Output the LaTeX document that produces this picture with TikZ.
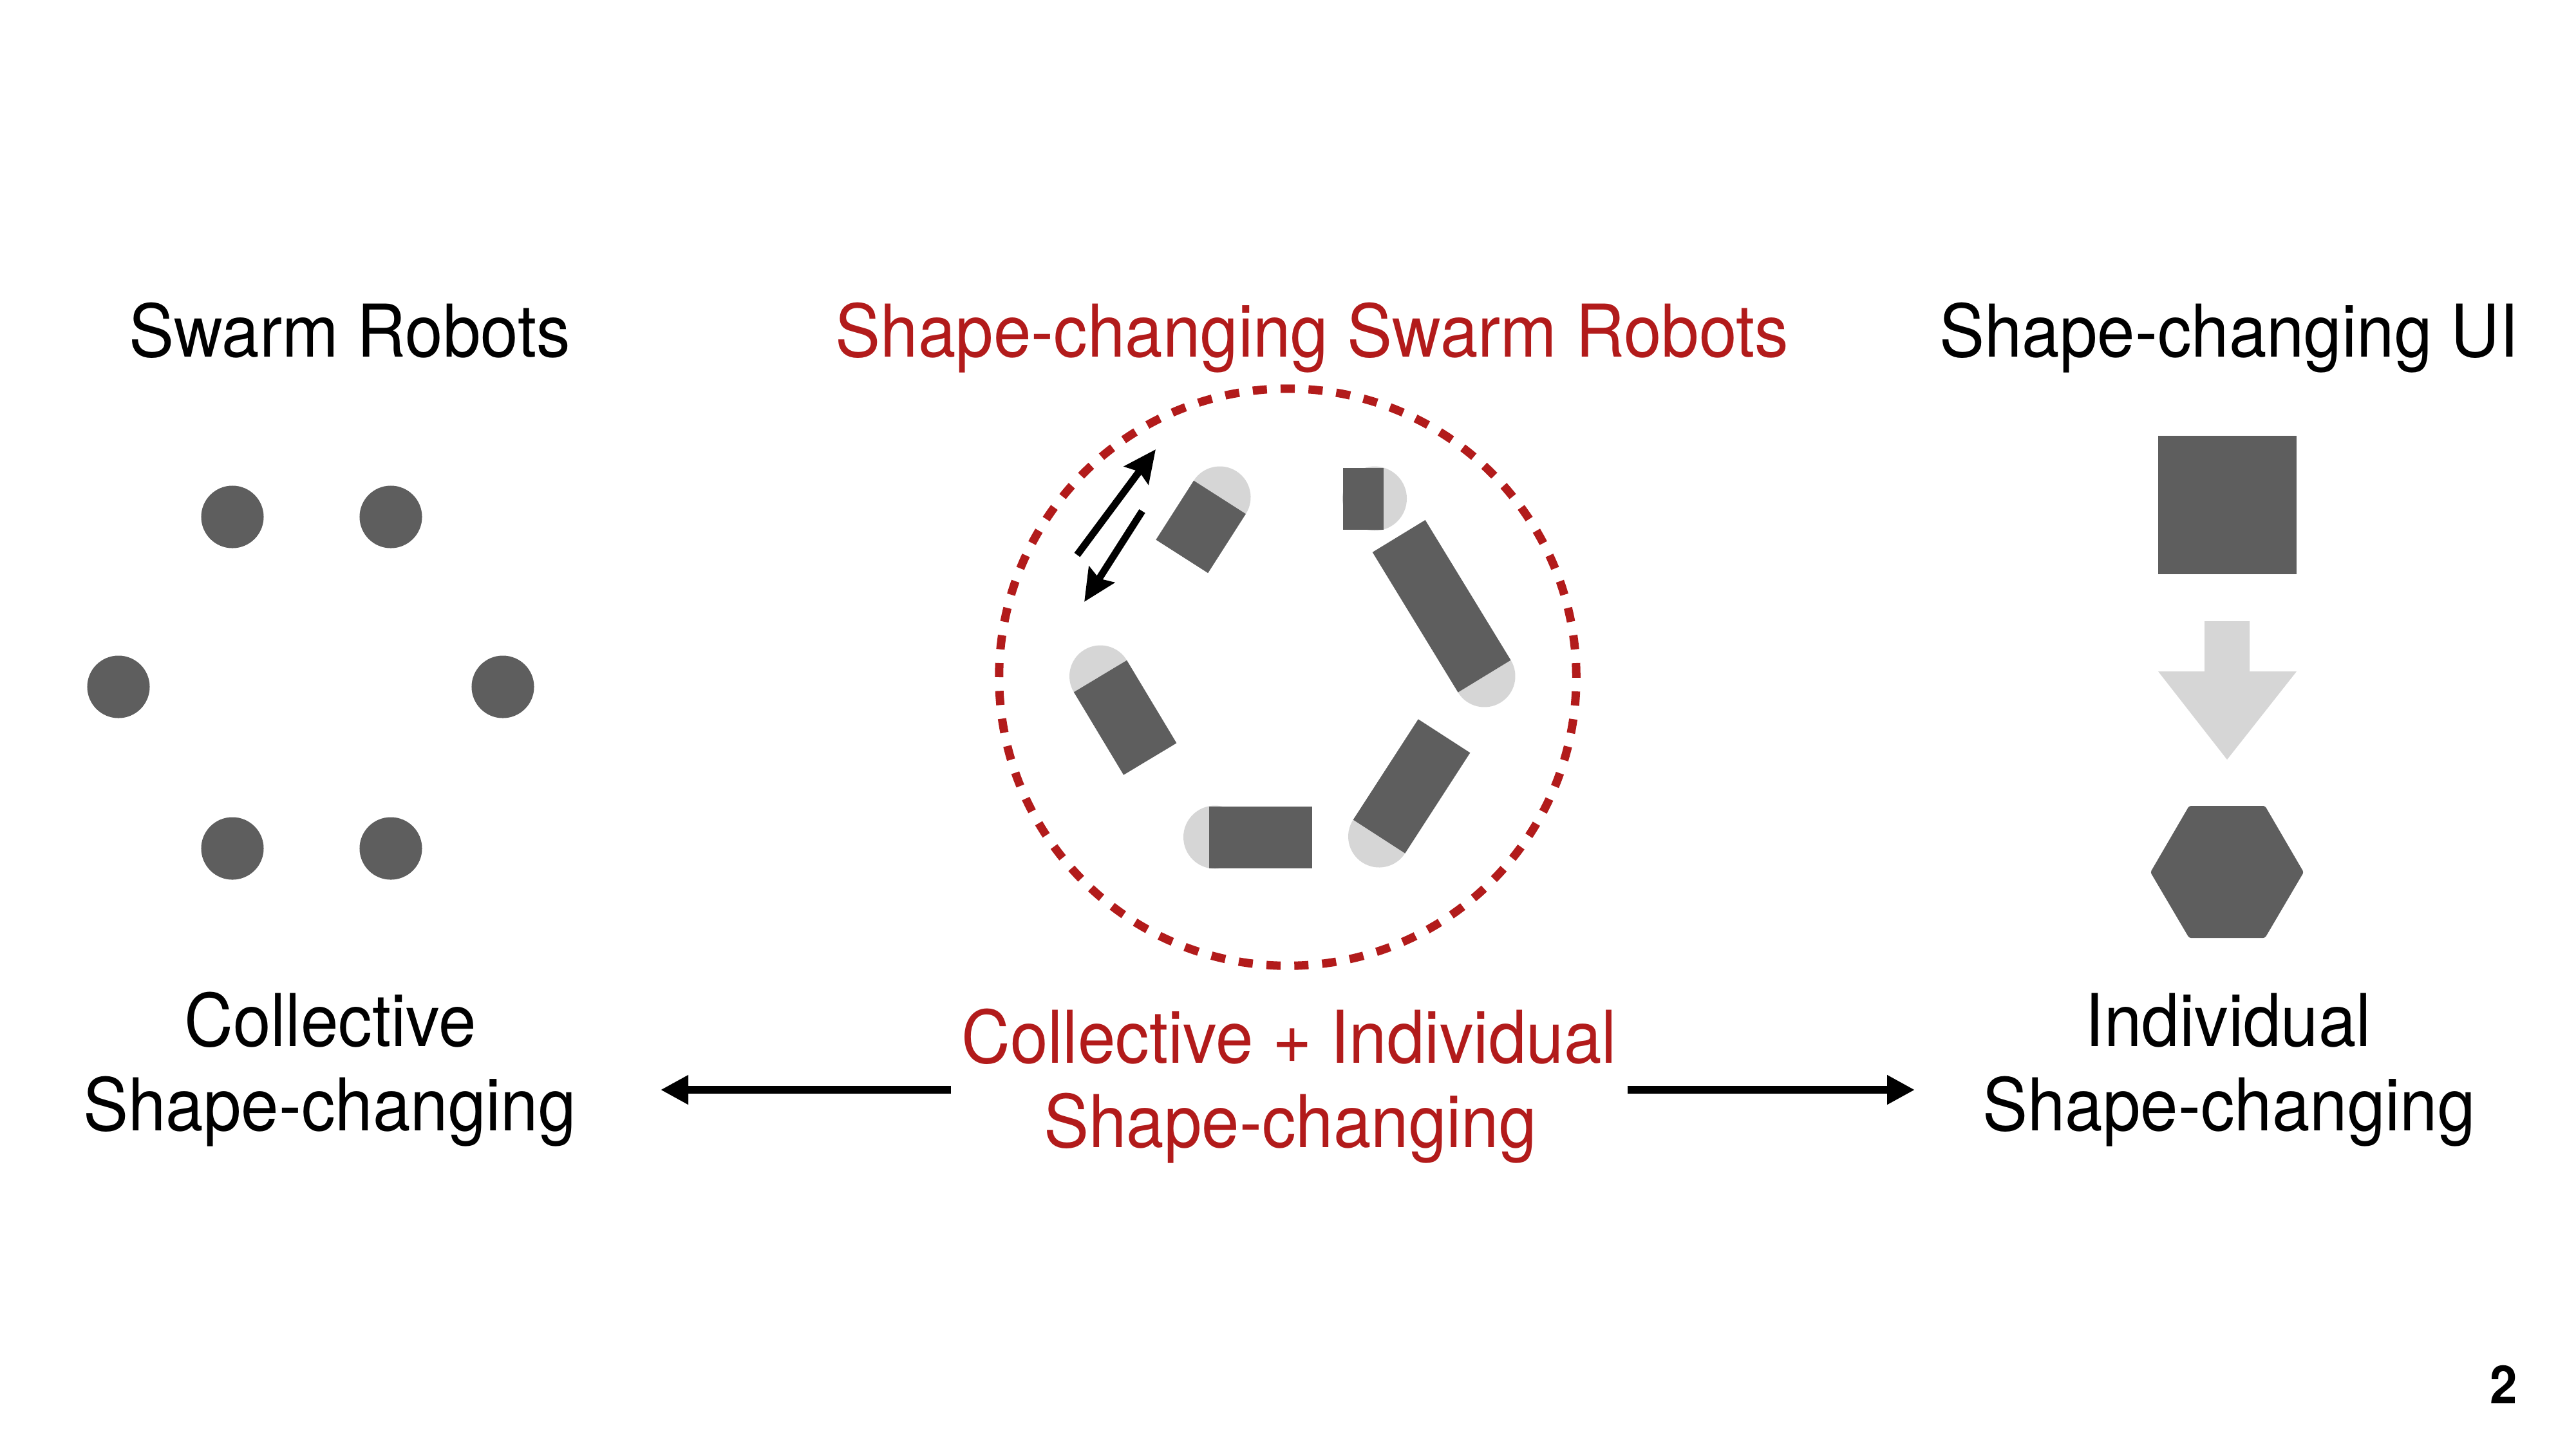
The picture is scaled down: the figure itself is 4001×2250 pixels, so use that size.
\documentclass[tikz,border=0pt]{standalone}
\usepackage{fontspec}
\setmainfont{TeX Gyre Heros}[FakeStretch=0.93]
\usetikzlibrary{arrows.meta}
\definecolor{robodark}{HTML}{5E5E5E}
\definecolor{robolight}{HTML}{D6D6D6}
\definecolor{accent}{RGB}{178,27,27}
\newcommand\slidefont{\fontsize{32.15pt}{38pt}\selectfont}
% #1 edge midpoint, #2 angle, #3 body length, #4 circle centre offset, #5 circle radius
\newcommand\swarmbot[5]{%
  \begin{scope}[shift={(#1)},rotate=#2]
    \fill[robolight] (#4,0) circle[radius=#5];
    \fill[robodark] (0,-48) rectangle (#3,48);
  \end{scope}}
\begin{document}
\begin{tikzpicture}[x=0.01cm,y=-0.01cm,
  lbl/.style={inner sep=0pt, anchor=base, font=\slidefont},
  redlbl/.style={lbl, text=accent},
  dot/.style={circle, fill=robodark, inner sep=0pt, minimum size=0.97cm},
  bigarrow/.style={line width=0.12cm, -{Triangle[length=0.43cm,width=0.43cm]}},
  smallarrow/.style={line width=0.11cm, -{Stealth[length=0.5cm,width=0.46cm,inset=0.07cm]}}]
\fill[white] (0,0) rectangle (4001,2250);
\useasboundingbox (0,0) rectangle (4001,2250);

% titles
\node[lbl] (tswarm) at (543,554) {Swarm Robots};
\node[redlbl] (tcenter) at (2038,554) {Shape-changing Swarm Robots};
\node[lbl] (tui) at (3462,554) {Shape-changing UI};

% left: swarm dots
\node[dot] (d1) at (361,803) {};
\node[dot] (d2) at (607,803) {};
\node[dot] (d3) at (184,1067) {};
\node[dot] (d4) at (781,1067) {};
\node[dot] (d5) at (361,1318) {};
\node[dot] (d6) at (607,1318) {};

% centre: dashed circle and robots
\draw[accent, line width=0.13cm, dash pattern=on 0.22cm off 0.213cm] (2000,1052) circle[radius=4.48cm];
\swarmbot{1894.5,772.5}{-122.6}{109}{0}{48}
\swarmbot{2149,774.5}{180}{63}{14}{50}
\swarmbot{2305.5,1050.5}{121.4}{255}{0}{48}
\swarmbot{1709,1050.5}{-59}{150}{0}{48}
\swarmbot{1878,1300.5}{0}{160}{9}{49}
\swarmbot{2142,1299.5}{57.1}{186}{0}{48}
\coordinate (a1s) at (1673,862);
\coordinate (a1e) at (1795,698);
\coordinate (a2s) at (1774,794);
\coordinate (a2e) at (1684,935);
\draw[smallarrow] (a1s) -- (a1e);
\draw[smallarrow] (a2s) -- (a2e);

% right: square, arrow, hexagon
\fill[robodark] (3352,677) rectangle (3567,892);
\fill[robolight] (3424,965) -- (3494,965) -- (3494,1043) -- (3567,1043) -- (3459,1180) -- (3352,1043) -- (3424,1043) -- cycle;
\fill[robodark, rounded corners=0.03cm] (3340,1355) -- (3400,1252) -- (3518,1252) -- (3578,1355) -- (3518,1457) -- (3400,1457) -- cycle;

% bottom labels
\node[lbl] (cl1) at (513,1625) {Collective};
\node[lbl] (cl2) at (512,1756) {Shape-changing};
\node[redlbl] (ci1) at (2002,1651) {Collective + Individual};
\node[redlbl] (ci2) at (2004,1782) {Shape-changing};
\node[lbl] (il1) at (3461,1625) {Individual};
\node[lbl] (il2) at (3462,1756) {Shape-changing};

\coordinate (lstart) at (1477,1693);
\coordinate (lend) at (1026,1693);
\coordinate (rstart) at (2528,1693);
\coordinate (rend) at (2974,1693);
\draw[bigarrow] (lstart) -- (lend);
\draw[bigarrow] (rstart) -- (rend);

\node[inner sep=0pt, anchor=base, font=\bfseries\fontsize{23.3pt}{28pt}\selectfont] (pagenum) at (3889,2180) {2};
\end{tikzpicture}
\end{document}
